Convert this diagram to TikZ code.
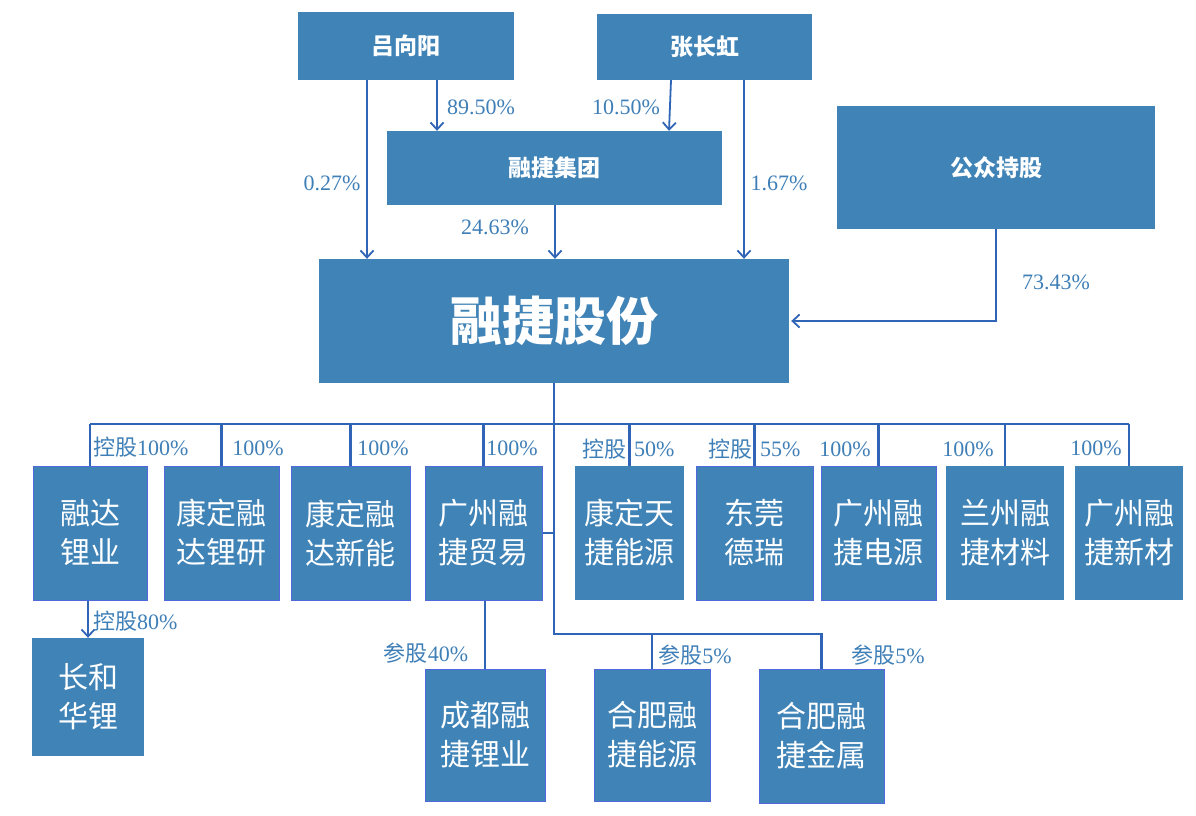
\documentclass[tikz,border=0pt]{standalone}
\usepackage{fontspec}
\setmainfont{Liberation Serif}
\newfontfamily\cjk{Noto Sans CJK SC}
\usetikzlibrary{arrows.meta}
\definecolor{boxblue}{HTML}{3F83B7}
\definecolor{lineblue}{HTML}{2F64B6}
\definecolor{lblblue}{HTML}{3F7FB7}
\definecolor{edgeblue}{HTML}{5068DC}
\tikzset{
 box/.style={fill=boxblue, inner sep=0pt, align=center, text=white},
 topbox/.style={box, font=\cjk\bfseries\fontsize{23}{26}\selectfont},
 subbox/.style={box, font=\cjk\fontsize{30}{39}\selectfont},
 edged/.style={draw=edgeblue, line width=1pt},
 arr/.style={draw=lineblue, line width=1.8pt, -{Straight Barb[length=7pt,width=13pt,line width=1.8pt]}},
 bus/.style={draw=lineblue, line width=2.8pt},
 pct/.style={text=lblblue, font=\fontsize{22}{24}\selectfont, inner sep=0pt},
}
\newcommand\kgtxt{{\cjk 控股}}
\newcommand\cgtxt{{\cjk 参股}}
\begin{document}
\begin{tikzpicture}[x=1pt,y=-1pt]
\useasboundingbox[fill=white] (0,0) rectangle (1196,816);
% top level
\node[topbox, minimum width=216pt, minimum height=68pt] (lxy) at (406,46) {吕向阳};
\node[topbox, minimum width=215pt, minimum height=66pt] (zch) at (704.5,47) {张长虹};
\node[topbox, minimum width=335pt, minimum height=74pt] (rjjt) at (554.5,168) {融捷集团};
\node[topbox, minimum width=318pt, minimum height=123pt] (gzcg) at (996,167.5) {公众持股};
\node[box, font=\cjk\bfseries\fontsize{52}{56}\selectfont, minimum width=470pt, minimum height=124pt] (rjgf) at (554,321) {融捷股份};
% arrows to parents
\draw[arr] (lxy.south -| 367,0) -- (rjgf.north -| 367,0);
\draw[arr] (lxy.south -| 437,0) -- (rjjt.north -| 437,0);
\draw[arr] (zch.south -| 671,0) -- (rjjt.north -| 669,0);
\draw[arr] (zch.south -| 744,0) -- (rjgf.north -| 744,0);
\draw[arr] (rjjt.south -| 555,0) -- (rjgf.north -| 555,0);
\draw[arr, shorten >=2pt] (gzcg.south) |- (rjgf.east);
\node[pct] (p1) at (332,183) {0.27\%};
\node[pct] (p2) at (481,107) {89.50\%};
\node[pct] (p3) at (626,107) {10.50\%};
\node[pct] (p4) at (495,227) {24.63\%};
\node[pct] (p5) at (779,183) {1.67\%};
\node[pct] (p6) at (1056,282) {73.43\%};
% subsidiaries row 1
\node[subbox, edged, minimum width=114pt, minimum height=134pt] (c1) at (90,533) {融达\\锂业};
\node[subbox, edged, minimum width=115pt, minimum height=134pt] (c2) at (221.5,533) {康定融\\达锂研};
\node[subbox, edged, minimum width=119pt, minimum height=134pt] (c3) at (350.5,533) {康定融\\达新能};
\node[subbox, edged, minimum width=117pt, minimum height=134pt] (c4) at (483.5,533) {广州融\\捷贸易};
\node[subbox, minimum width=109pt, minimum height=134pt] (c5) at (629.5,533) {康定天\\捷能源};
\node[subbox, edged, minimum width=117pt, minimum height=134pt] (c6) at (754.5,533) {东莞\\德瑞};
\node[subbox, edged, minimum width=115pt, minimum height=134pt] (c7) at (878.5,533) {广州融\\捷电源};
\node[subbox, minimum width=118pt, minimum height=134pt] (c8) at (1005,533) {兰州融\\捷材料};
\node[subbox, minimum width=108pt, minimum height=134pt] (c9) at (1129,533) {广州融\\捷新材};
% row 2
\node[subbox, minimum width=112pt, minimum height=118pt] (chhl) at (88,697) {长和\\华锂};
\node[subbox, edged, minimum width=120pt, minimum height=132pt] (cdrj) at (485,735) {成都融\\捷锂业};
\node[subbox, edged, minimum width=116pt, minimum height=132pt] (hfny) at (652,735) {合肥融\\捷能源};
\node[subbox, edged, minimum width=125pt, minimum height=134pt] (hfjs) at (821.5,736) {合肥融\\捷金属};
% bus
\coordinate (busL) at (90,424);
\coordinate (busR) at (1129,424);
\coordinate (low) at (553,634);
\draw[bus] (rjgf.south) -- (rjgf.south |- busL);
\draw[bus] (busL) -- (busR);
\foreach \c in {c1,c2,c3,c4,c5,c6,c7,c8,c9}{
  \draw[bus] (\c.north |- busL) -- (\c.north);
}
\draw[bus] (rjgf.south |- busL) -- (rjgf.south |- low) -| (hfjs.north);
\draw[bus] (hfny.north |- low) -- (hfny.north);
\draw[bus] (c4.east) -- (c4.east -| rjgf.south);
\draw[bus] (c4.south -| cdrj.north) -- (cdrj.north);
\draw[arr] (c1.south -| chhl.north) -- (chhl.north);
% labels row 1
\node[pct, anchor=west] (q1) at (93,447) {\kgtxt 100\%};
\node[pct] (q2) at (258,448) {100\%};
\node[pct] (q3) at (383,448) {100\%};
\node[pct] (q4) at (512,448) {100\%};
\node[pct, anchor=east] (q5a) at (627,449) {\kgtxt};
\node[pct, anchor=west] (q5b) at (634,449) {50\%};
\node[pct, anchor=east] (q6a) at (753,449) {\kgtxt};
\node[pct, anchor=west] (q6b) at (760,449) {55\%};
\node[pct] (q7) at (845,449) {100\%};
\node[pct] (q8) at (968,449) {100\%};
\node[pct] (q9) at (1096,448) {100\%};
% labels row 2
\node[pct, anchor=west] (r1) at (93,621) {\kgtxt 80\%};
\node[pct] (r2) at (426,653) {\cgtxt 40\%};
\node[pct] (r3) at (695,655) {\cgtxt 5\%};
\node[pct] (r4) at (888,655) {\cgtxt 5\%};
\end{tikzpicture}
\end{document}
